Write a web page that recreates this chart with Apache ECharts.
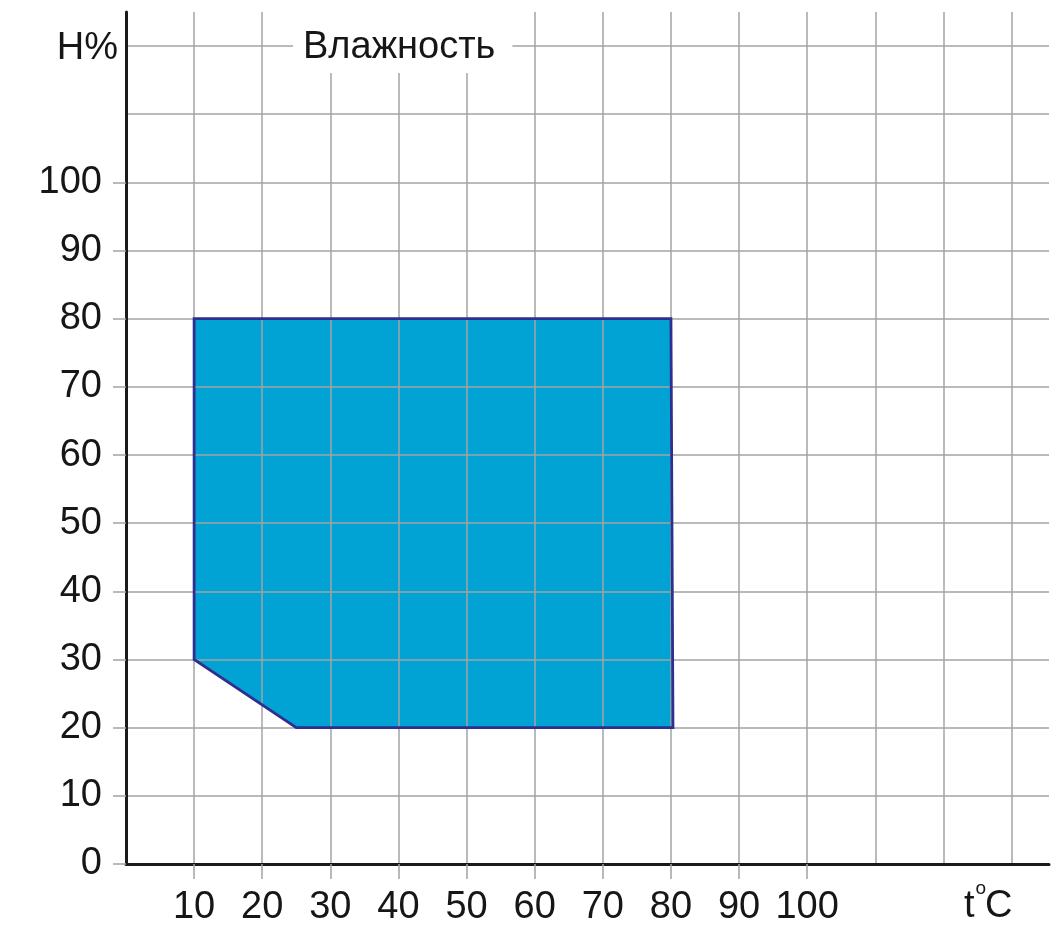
<!DOCTYPE html>
<html>
<head>
<meta charset="utf-8">
<script src="https://cdn.jsdelivr.net/npm/echarts@6/dist/echarts.min.js"></script>
<style>
html,body{margin:0;padding:0;background:#fff;}
#chart{width:1063px;height:944px;}
</style>
</head>
<body>
<div id="chart"></div>
<script>
// Data
const xTickValues = [10, 20, 30, 40, 50, 60, 70, 80, 90, 100];
const yTickValues = [0, 10, 20, 30, 40, 50, 60, 70, 80, 90, 100];
const zoneTemp = [10, 80, 80.3, 25, 10];
const zoneHum = [80, 80, 20, 20, 30];
const titleText = 'Влажность';
const yName = 'H%';
const xNameParts = ['t', 'o', 'C'];

const FONT = '"Liberation Sans", Arial, sans-serif';
const FS = 38;
const TEXT_COLOR = '#161616';
const GRID_COLOR = '#a3a3a3';
const xMax = 135.5, yMax = 125;

const chart = echarts.init(document.getElementById('chart'));
const polyData = zoneTemp.map((t, i) => [t, zoneHum[i]]);

function polyRender(fillMode) {
  return function (params, api) {
    if (params.dataIndex !== 0) return null;
    const pts = zoneTemp.map((t, i) => api.coord([t, zoneHum[i]]));
    return {
      type: 'polygon',
      shape: { points: pts },
      style: fillMode
        ? { fill: '#00a3d4', stroke: null }
        : { fill: null, stroke: '#2e2f8f', lineWidth: 2.8, lineJoin: 'miter' }
    };
  };
}

chart.setOption({
  animation: false,
  title: {
    text: titleText,
    left: 293,
    top: 0,
    backgroundColor: '#fff',
    padding: [29, 17, 6, 10],
    textStyle: { fontFamily: FONT, fontSize: FS, fontWeight: 'normal', color: TEXT_COLOR, lineHeight: 38 }
  },
  grid: { left: 126, right: 14, top: 12, bottom: 80, containLabel: false },
  xAxis: [
    {
      type: 'value', min: 0, max: xMax, interval: 10,
      axisLine: { show: true, lineStyle: { color: '#1a1a1a', width: 3 } },
      axisTick: { show: false }, axisLabel: { show: false },
      splitLine: { show: true, showMinLine: false, showMaxLine: false, lineStyle: { color: GRID_COLOR, width: 1.5 } }
    },
    {
      type: 'value', min: 0, max: xMax, interval: 10, position: 'bottom',
      axisLine: { show: false },
      axisTick: { show: true, length: 15, customValues: xTickValues, lineStyle: { color: GRID_COLOR, width: 1.5 } },
      axisLabel: { show: true, customValues: xTickValues, margin: 25, fontFamily: FONT, fontSize: FS, color: TEXT_COLOR },
      splitLine: { show: false }
    }
  ],
  yAxis: [
    {
      type: 'value', min: 0, max: yMax, interval: 10,
      axisLine: { show: true, lineStyle: { color: '#1a1a1a', width: 3 } },
      axisTick: { show: false }, axisLabel: { show: false },
      splitLine: { show: true, showMinLine: false, showMaxLine: false, lineStyle: { color: GRID_COLOR, width: 1.5 } }
    },
    {
      type: 'value', min: 0, max: yMax, interval: 10, position: 'left', offset: 0,
      axisLine: { show: false },
      axisTick: { show: true, length: 13, customValues: yTickValues, lineStyle: { color: GRID_COLOR, width: 1.5 } },
      axisLabel: { show: true, customValues: yTickValues, margin: 24, padding: [5, 0, 0, 0], fontFamily: FONT, fontSize: FS, color: TEXT_COLOR },
      splitLine: { show: false }
    }
  ],
  graphic: [
    { type: 'text', x: 118, y: 49, style: { text: yName, font: FS + 'px ' + FONT, fill: TEXT_COLOR, align: 'right', verticalAlign: 'middle' } },
    { type: 'text', x: 964, y: 907, style: { text: xNameParts[0], font: FS + 'px ' + FONT, fill: TEXT_COLOR, align: 'left', verticalAlign: 'middle' } },
    { type: 'text', x: 975.5, y: 889, style: { text: xNameParts[1], font: '19px ' + FONT, fill: TEXT_COLOR, align: 'left', verticalAlign: 'middle' } },
    { type: 'text', x: 985, y: 907, style: { text: xNameParts[2], font: FS + 'px ' + FONT, fill: TEXT_COLOR, align: 'left', verticalAlign: 'middle' } }
  ],
  series: [
    {
      type: 'custom', xAxisIndex: 0, yAxisIndex: 0, z: -1,
      renderItem: polyRender(true), data: polyData, silent: true
    },
    {
      type: 'custom', xAxisIndex: 0, yAxisIndex: 0, z: 5,
      renderItem: polyRender(false), data: polyData, silent: true
    }
  ]
});
</script>
</body>
</html>
